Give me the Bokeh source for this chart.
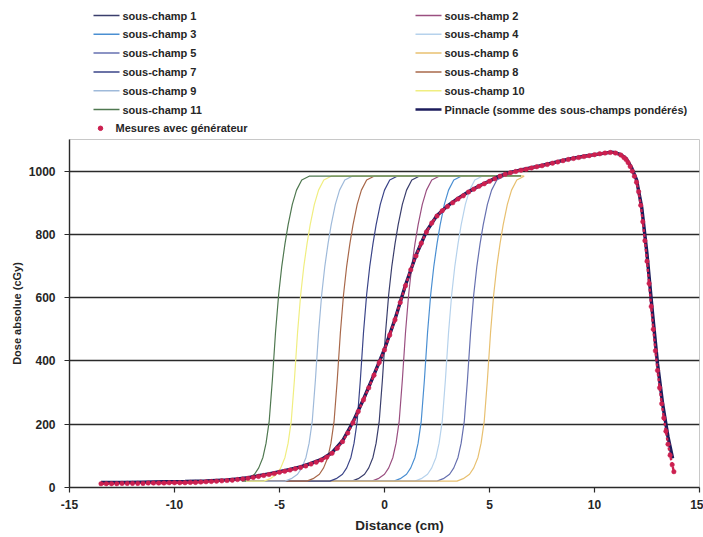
import numpy as np
from bokeh.plotting import figure
from bokeh.layouts import column
from bokeh.models import Range1d, FixedTicker
from bokeh.core.properties import value
from bokeh.embed import file_html
from bokeh.resources import INLINE

# ---------------- data ----------------
x_ticks = [-15, -10, -5, 0, 5, 10, 15]
y_ticks = [0, 200, 400, 600, 800, 1000]
x_tick_labels = {-15: "-15", -10: "-10", -5: "-5", 0: "0", 5: "5", 10: "10", 15: "15"}
x_title = "Distance (cm)"
y_title = "Dose absolue (cGy)"

sub_names = ["sous-champ %d" % k for k in range(1, 12)]
sub_colors = ["#3a3e6c", "#9a4f80", "#4a8fd2", "#b6d2ec", "#6670b0", "#e8c070",
              "#3a4488", "#a8684a", "#9fbada", "#f0ee80", "#4f7850"]
# 50 % positions (cm) of each sub-field edge
sub_edges = [0.05, 1.0, 2.05, 3.05, 4.1, 5.05, -1.0, -2.1, -3.14, -4.14, -5.19]
# common penumbra profile of a sub-field (offset from its 50 % point, cm -> cGy)
sub_prof_dx = [-1.6, -1.3, -1.0, -0.8, -0.6, -0.45, -0.3, -0.15, 0.0, 0.15, 0.3,
               0.45, 0.6, 0.8, 1.0, 1.25, 1.6]
sub_prof_dose = [20, 28, 42, 62, 95, 140, 210, 340, 490, 610, 700, 770, 830, 895,
                 940, 972, 984]
sub_x_start, sub_base = -6.6, 20
sub_x_end, sub_top = 6.5, 985

pin_name = "Pinnacle (somme des sous-champs pondérés)"
pin_x = [-13.5, -12.5, -11.5, -10.5, -9.5, -8.5, -7.5, -7.0, -6.5, -6.0, -5.5, -5.0,
         -4.5, -4.0, -3.5, -3.0, -2.5, -2.0, -1.5, -1.0, -0.5, 0.0, 0.5, 1.0, 1.5,
         2.0, 2.5, 3.0, 3.5, 4.0, 4.5, 5.0, 5.5, 6.0, 6.5, 7.0, 7.5, 8.0, 8.5, 9.0,
         9.5, 10.0, 10.5, 10.8, 11.0, 11.25, 11.5, 11.75, 12.0, 12.25, 12.5, 12.75,
         13.0, 13.25, 13.5, 13.72]
pin_y = [16, 16, 17, 18, 19, 21, 24, 27, 31, 37, 43, 50, 57, 65, 76, 89, 110, 147,
         207, 279, 357, 437, 532, 640, 734, 810, 860, 890, 914, 935, 953, 969, 985,
         996, 1004, 1011, 1018, 1026, 1034, 1041, 1047, 1052, 1057, 1060, 1058, 1052,
         1040, 1013, 973, 885, 738, 560, 392, 262, 160, 92]

meas_name = "Mesures avec générateur"
meas_x = [-13.5, -13.25, -13.0, -12.75, -12.5, -12.25, -12.0, -11.75, -11.5, -11.25,
          -11.0, -10.75, -10.5, -10.25, -10.0, -9.75, -9.5, -9.25, -9.0, -8.75,
          -8.5, -8.25, -8.0, -7.75, -7.5, -7.25, -7.0, -6.75, -6.5, -6.25,
          -6.0, -5.75, -5.5, -5.25, -5.0, -4.75, -4.5, -4.25, -4.0, -3.75,
          -3.5, -3.25, -3.0, -2.75, -2.5, -2.25, -2.0, -1.75, -1.5, -1.25,
          -1.0, -0.75, -0.5, -0.25, 0.0, 0.25, 0.5, 0.75, 1.0, 1.25,
          1.5, 1.75, 2.0, 2.25, 2.5, 2.75, 3.0, 3.25, 3.5, 3.75,
          4.0, 4.25, 4.5, 4.75, 5.0, 5.25, 5.5, 5.75, 6.0, 6.25,
          6.5, 6.75, 7.0, 7.25, 7.5, 7.75, 8.0, 8.25, 8.5, 8.75,
          9.0, 9.25, 9.5, 9.75, 10.0, 10.25, 10.5, 10.75, 11.0, 11.25,
          11.4, 11.5, 11.6, 11.7, 11.8, 11.9, 12.0, 12.1, 12.2, 12.3,
          12.4, 12.5, 12.6, 12.7, 12.8, 12.9, 13.0, 13.1, 13.2, 13.3,
          13.4, 13.5, 13.6, 13.7, 13.78]
meas_y = [12, 12, 12, 12, 13, 13, 13, 13, 13, 14,
          14, 14, 14, 15, 15, 15, 15, 16, 16, 17,
          18, 19, 20, 21, 22, 23, 25, 27, 29, 32,
          35, 38, 41, 44, 48, 51, 55, 59, 63, 68,
          74, 80, 87, 96, 108, 124, 145, 172, 205, 240,
          277, 315, 355, 395, 435, 482, 530, 585, 638, 688,
          732, 772, 808, 836, 858, 875, 888, 900, 912, 922,
          934, 943, 952, 960, 968, 976, 984, 990, 995, 999,
          1003, 1006, 1010, 1014, 1017, 1021, 1025, 1029, 1033, 1037,
          1040, 1043, 1046, 1049, 1052, 1055, 1057, 1059, 1057, 1051,
          1043, 1037, 1027, 1015, 1000, 984, 965, 935, 892, 840,
          780, 715, 645, 572, 500, 432, 370, 315, 265, 220,
          178, 137, 102, 72, 50]

pin_color = "#1c1c5c"
meas_color = "#cc2050"

FONT = "Liberation Sans"
TXT = "#262626"
W = 703
LEG_H = 138
BOT_H = 20
MAIN_H = 537 - LEG_H - BOT_H
BL, BR = 69, 4          # left / right borders (frame spans 69..699 px)
FX0, FX1 = BL, W - BR   # pixel coordinates of the frame edges

# ---------------- main chart ----------------
p = figure(width=W, height=MAIN_H, output_backend="svg", toolbar_location=None,
           x_range=Range1d(-15, 15), y_range=Range1d(0, 1100),
           min_border_left=BL, min_border_right=BR, min_border_top=1,
           min_border_bottom=30)
p.background_fill_color = "white"
p.border_fill_color = "white"
p.outline_line_color = "#c8c8c8"
p.outline_line_width = 1

p.xgrid.visible = False
p.ygrid.ticker = FixedTicker(ticks=y_ticks)
p.ygrid.grid_line_color = "#2a2a2a"
p.ygrid.grid_line_width = 1.5

p.xaxis.ticker = FixedTicker(ticks=x_ticks)
p.yaxis.ticker = FixedTicker(ticks=y_ticks)
p.xaxis.major_label_overrides = x_tick_labels
for ax in (p.xaxis[0], p.yaxis[0]):
    ax.axis_line_color = "#2a2a2a"
    ax.axis_line_width = 1.4
    ax.major_tick_line_color = "#2a2a2a"
    ax.major_tick_line_width = 1.2
    ax.major_tick_in = 0
    ax.major_tick_out = 5
    ax.minor_tick_line_color = None
    ax.major_label_text_font = FONT
    ax.major_label_text_font_size = "12px"
    ax.major_label_text_font_style = "bold"
    ax.major_label_text_color = TXT
    ax.axis_label_text_font = FONT
    ax.axis_label_text_font_style = "bold"
    ax.axis_label_text_color = TXT

p.yaxis.axis_label = y_title
p.yaxis.axis_label_text_font_size = "11px"
p.yaxis.major_label_standoff = 9
p.yaxis.axis_label_standoff = 3
p.xaxis.major_label_standoff = 7

for col, edge in zip(sub_colors, sub_edges):
    xs = [sub_x_start] + [edge + d for d in sub_prof_dx] + [sub_x_end]
    ys = [sub_base] + list(sub_prof_dose) + [sub_top]
    p.line(xs, ys, line_color=col, line_width=1.2)

p.line(pin_x, pin_y, line_color=pin_color, line_width=3.4)
p.line(meas_x, meas_y, line_color=meas_color, line_width=2.4, line_dash="3 2")
p.scatter(meas_x, meas_y, size=4.5, marker="circle",
          fill_color=meas_color, line_color=meas_color, line_width=0.5)

# ---------------- legend panel (pixel coordinates, y downwards) ----------------
lg = figure(width=W, height=LEG_H, output_backend="svg", toolbar_location=None,
            x_range=Range1d(FX0, FX1), y_range=Range1d(LEG_H, 0),
            x_axis_location=None, y_axis_location=None,
            min_border_left=BL, min_border_right=BR, min_border_top=0,
            min_border_bottom=0)
lg.grid.visible = False
lg.outline_line_color = None
lg.background_fill_color = "white"
lg.border_fill_color = "white"

row_y0, row_dy = 15.0, 18.8
colL_x, colR_x, glyph_w, gap = 93, 415, 26, 3

left_idx = [0, 2, 4, 6, 8, 10]
right_idx = [1, 3, 5, 7, 9]
entries = []  # (x_glyph, y, color, width, label)
for r, i in enumerate(left_idx):
    entries.append((colL_x, row_y0 + r * row_dy, sub_colors[i], 1.5, sub_names[i]))
for r, i in enumerate(right_idx):
    entries.append((colR_x, row_y0 + r * row_dy, sub_colors[i], 1.5, sub_names[i]))
entries.append((colR_x, row_y0 + 5 * row_dy, pin_color, 2.6, pin_name))

for gx, gy, c, lw, lab in entries:
    lg.segment(x0=[gx], y0=[gy], x1=[gx + glyph_w], y1=[gy], line_color=c, line_width=lw)
lg.text(x=[e[0] + glyph_w + gap for e in entries], y=[e[1] for e in entries],
        text=[e[4] for e in entries], text_baseline="middle", text_align="left",
        text_font=value(FONT), text_font_size="11px", text_font_style="bold",
        text_color=TXT)

my = row_y0 + 6 * row_dy
lg.scatter(x=[colL_x + 7], y=[my], size=4.5, marker="circle",
           fill_color=meas_color, line_color=meas_color)
lg.text(x=[colL_x + 22], y=[my], text=[meas_name], text_baseline="middle",
        text_align="left", text_font=value(FONT), text_font_size="11px",
        text_font_style="bold", text_color=TXT)

# ---------------- x-axis title strip ----------------
bt = figure(width=W, height=BOT_H, output_backend="svg", toolbar_location=None,
            x_range=Range1d(FX0, FX1), y_range=Range1d(BOT_H, 0),
            x_axis_location=None, y_axis_location=None,
            min_border_left=BL, min_border_right=BR, min_border_top=0,
            min_border_bottom=0)
bt.grid.visible = False
bt.outline_line_color = None
bt.background_fill_color = "white"
bt.border_fill_color = "white"
bt.text(x=[399], y=[8], text=[x_title], text_baseline="middle", text_align="center",
        text_font=value(FONT), text_font_size="13.5px", text_font_style="bold",
        text_color=TXT)

layout = column(lg, p, bt, spacing=0)
open("out.html", "w").write(file_html(layout, INLINE))
